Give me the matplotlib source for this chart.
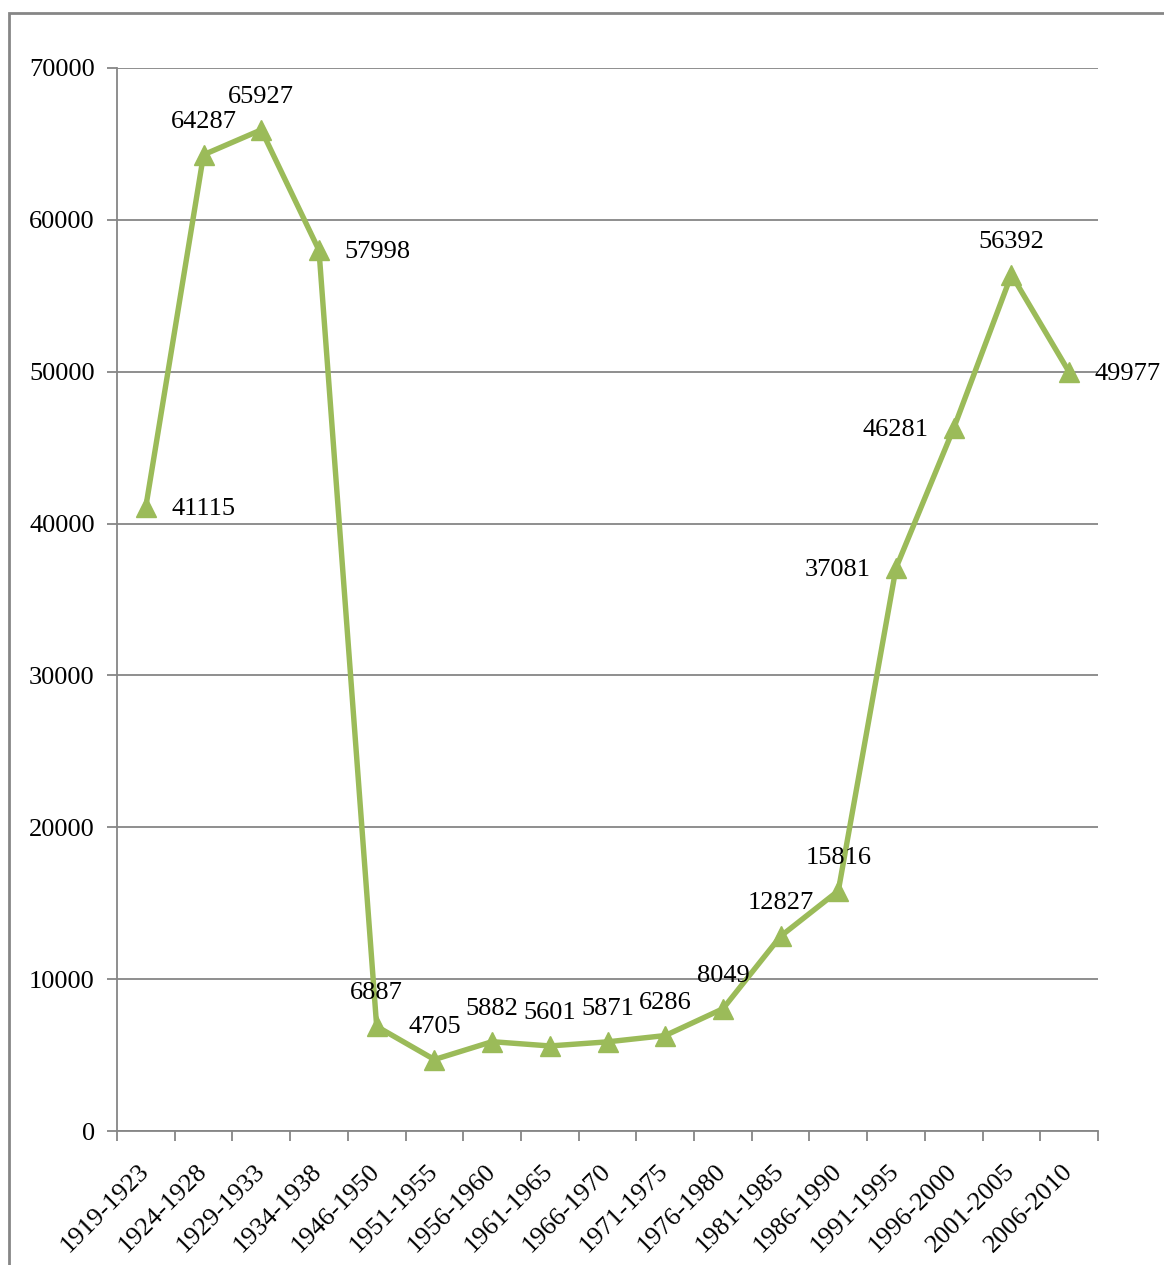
import matplotlib.pyplot as plt
import matplotlib.transforms as mtransforms
from matplotlib.patches import Rectangle

periods = ["1919-1923", "1924-1928", "1929-1933", "1934-1938", "1946-1950",
           "1951-1955", "1956-1960", "1961-1965", "1966-1970", "1971-1975",
           "1976-1980", "1981-1985", "1986-1990", "1991-1995", "1996-2000",
           "2001-2005", "2006-2010"]
values = [41115, 64287, 65927, 57998, 6887, 4705, 5882, 5601, 5871, 6286,
          8049, 12827, 15816, 37081, 46281, 56392, 49977]
# where each data label sits relative to its point
label_side = ["right", "above", "above", "right", "above", "above", "above",
              "above", "above", "above", "above", "above", "above", "left",
              "left", "above", "right"]

plt.rcParams['font.family'] = ['Liberation Serif', 'DejaVu Serif']

GREEN = "#9BBB59"
GRAY = "#868686"

fig = plt.figure(figsize=(11.64, 12.65), dpi=100)
ax = fig.add_axes([117/1164, 1 - 1131/1265, (1098-117)/1164, (1131-68)/1265])

# outer chart frame
fig.patches.append(Rectangle((8.5/1164, -0.1), 1.2, 1 - 13/1265 + 0.1,
                             transform=fig.transFigure, fill=False,
                             edgecolor=GRAY, lw=2, zorder=0))

x = list(range(len(periods)))
ax.plot(x, values, color=GREEN, lw=3.9, marker="^", markersize=14,
        markeredgecolor=GREEN, zorder=3, clip_on=False)

offsets = {"above": (0, 33), "right": (58, -2), "left": (-58, -2)}
for xi, v, side in zip(x, values, label_side):
  dx, dy = offsets[side]
  ax.annotate(str(v), (xi, v), xytext=(dx, dy), textcoords="offset pixels",
              ha="center", va="center", fontsize=19, zorder=4)

ax.set_xlim(-0.5, len(periods) - 0.5)
ax.set_ylim(0, 70000)
ax.set_yticks(range(0, 70001, 10000))
ax.set_yticklabels([str(t) for t in range(0, 70001, 10000)], fontsize=19)
ax.yaxis.grid(True, color=GRAY, lw=1.3)
ax.set_axisbelow(True)

ax.set_xticks([i - 0.5 for i in range(len(periods) + 1)])
ax.set_xticklabels([])
ax.set_xticks(x, minor=True)
ax.set_xticklabels(periods, minor=True, rotation=45, ha="right",
                   rotation_mode="anchor", fontsize=19)
ax.tick_params(axis="x", which="minor", length=0, pad=21)
ax.tick_params(axis="x", which="major", length=7, width=1.3, color=GRAY)
ax.tick_params(axis="y", length=7, width=1.3, color=GRAY, pad=9)

shift = mtransforms.ScaledTranslation(-8/100, 0, fig.dpi_scale_trans)
for lbl in ax.get_xticklabels(minor=True):
  lbl.set_transform(lbl.get_transform() + shift)

for s in ["top", "right"]:
  ax.spines[s].set_visible(False)
for s in ["left", "bottom"]:
  ax.spines[s].set_color(GRAY)
  ax.spines[s].set_linewidth(1.3)

fig.savefig("out.png", dpi=100)
